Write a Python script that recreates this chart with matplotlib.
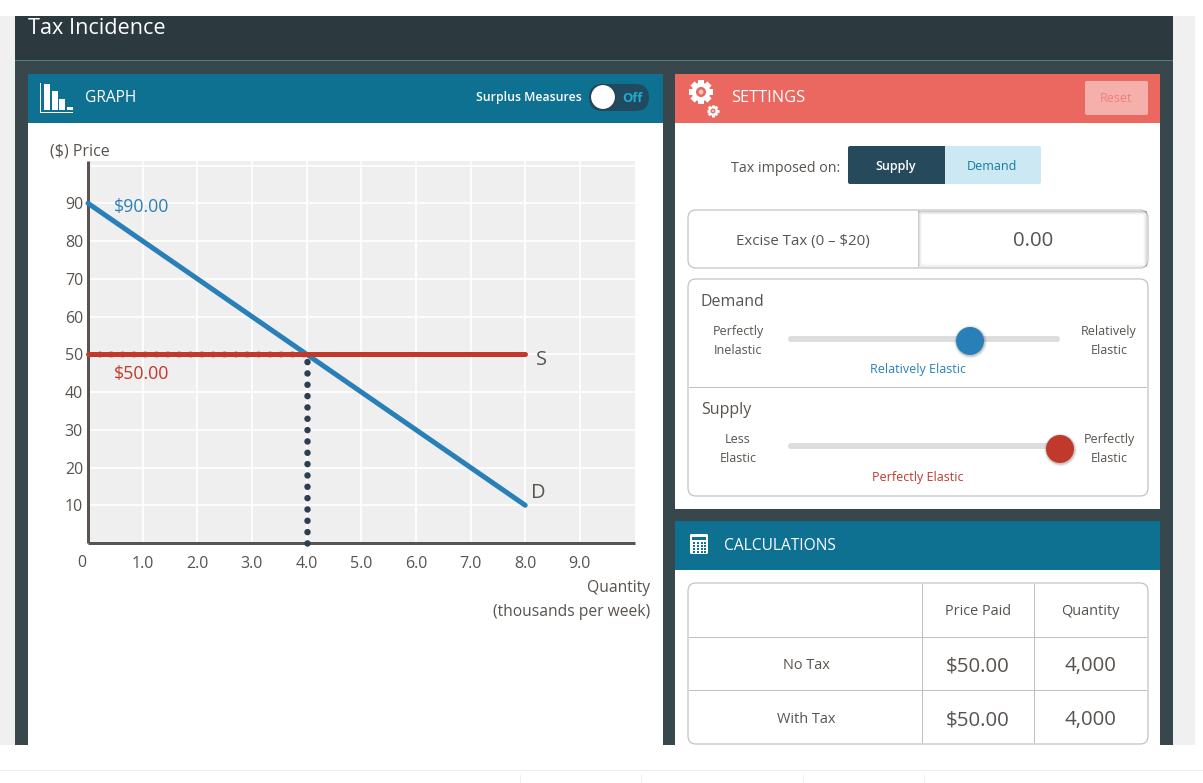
import numpy as np
import matplotlib
matplotlib.use("Agg")
import matplotlib.pyplot as plt
from matplotlib.patches import Rectangle, FancyBboxPatch, Circle

plt.rcParams['font.family'] = ['Open Sans', 'DejaVu Sans']

# chart data
demand_q = [0, 8]
demand_p = [90, 10]
supply_q = [0, 8]
supply_p = [50, 50]
eq_q = [4, 4]
eq_p = [0, 50]
x_ticks = [1, 2, 3, 4, 5, 6, 7, 8, 9]
x_labels = ["1.0", "2.0", "3.0", "4.0", "5.0", "6.0", "7.0", "8.0", "9.0"]
y_ticks = [10, 20, 30, 40, 50, 60, 70, 80, 90, 100]
y_labels = ["10", "20", "30", "40", "50", "60", "70", "80", "90", ""]

# table text
table_cols = ["Price Paid", "Quantity"]
table_rows = ["No Tax", "With Tax"]
table_price = ["$50.00", "$50.00"]
table_qty = ["4,000", "4,000"]

W, H = 1203, 783
TEAL = "#0f7192"
CORAL = "#ea6860"
TEXT = "#58534f"
BLUE = "#2980b9"
RED = "#c0392b"
BORDER = "#c0c0c0"

fig = plt.figure(figsize=(W / 100, H / 100), dpi=100, facecolor="white")
ui = fig.add_axes([0, 0, 1, 1])
ui.set_xlim(0, W)
ui.set_ylim(H, 0)
ui.axis("off")


def px(v):
    # css pixels to points
    return v * 0.72


def box(x0, y0, x1, y1, color, z=1, alpha=None):
    ui.add_patch(Rectangle((x0, y0), x1 - x0, y1 - y0, fc=color, ec="none", zorder=z, alpha=alpha))


def rbox(x0, y0, x1, y1, r=8, fc="white", ec=BORDER, lw=0.85, z=3):
    ui.add_patch(FancyBboxPatch((x0 + r, y0 + r), x1 - x0 - 2 * r, y1 - y0 - 2 * r,
                                boxstyle=f"round,pad={r},rounding_size={r}",
                                fc=fc, ec=ec, lw=lw, zorder=z))


def txt(x, y, s, size=15, color=TEXT, ha="center", weight="normal"):
    # centre of the x-height sits a little lower than matplotlib's box centre
    ui.text(x, y + 3, s, fontsize=px(size), color=color, ha=ha, va="center", weight=weight, zorder=8)


def gear(x, y, r, bg):
    for ang in np.arange(0, 180, 45):
        dx, dy = r * np.cos(np.radians(ang)), r * np.sin(np.radians(ang))
        ui.plot([x - dx, x + dx], [y - dy, y + dy], color="white", lw=px(r * 0.5),
                solid_capstyle="butt", zorder=6)
    ui.add_patch(Circle((x, y), r * 0.78, fc="white", ec="none", zorder=6))
    ui.add_patch(Circle((x, y), r * 0.42, fc=bg, ec="none", zorder=7))
    ui.add_patch(Circle((x, y), r * 0.2, fc="#f6c9c5", ec="none", zorder=8))


def knob(x, y, r, color):
    # soft shadow, then the knob
    for grow, a in [(2.5, 0.05), (1.5, 0.08), (0.7, 0.1)]:
        ui.add_patch(Circle((x + 0.5, y + 0.8), r + grow, fc="black", ec="none", alpha=a, zorder=5))
    ui.add_patch(Circle((x, y), r, fc=color, ec="none", zorder=6))


# page background
box(0, 16, 15, 745, "#f0f0f0")
box(1173, 16, 1195, 745, "#f0f0f0")
box(15, 16, 1173, 60, "#2c3a40")
box(15, 60, 1173, 61, "#5f7a72", z=2)
box(15, 61, 1173, 745, "#37474b")
box(0, 770, W, 771, "#eeeeee")
for bx in [520, 641, 803, 924]:
    box(bx, 775, bx + 1, H, "#eeeeee")
txt(28, 25.5, "Tax Incidence", size=21.7, color="white", ha="left")

# graph panel
box(28, 123, 663, 745, "white")
box(28, 74, 663, 123, TEAL)
box(40, 83, 41, 113, "white", z=5)
box(40, 112, 73, 113, "white", z=5)
for bx, by in [(44, 84), (52, 91), (59, 99), (67, 107)]:
    box(bx, by, bx + 6, 110, "white", z=5)
txt(85, 95, "GRAPH", size=15.5, color="white", ha="left")
txt(582, 95, "Surplus Measures", size=12.2, color="white", ha="right", weight="semibold")
rbox(589, 84, 649, 111, r=13.5, fc="#1f4a60", ec="none", z=4)
ui.add_patch(Circle((603, 97), 12.5, fc="white", ec="#20404f", lw=0.8, zorder=6))
txt(632, 95, "Off", size=13, color="#22a9cf", weight="bold")

# settings panel
box(675, 123, 1160, 509, "white")
box(675, 74, 1160, 123, CORAL)
gear(701, 92, 12, CORAL)
gear(713, 111, 6, CORAL)
txt(731, 95, "SETTINGS", size=16.4, color="white", ha="left")
rbox(1085, 81, 1148, 115, r=2, fc="#f5b0ab", ec="none")
txt(1116, 96, "Reset", size=12.5, color="#ee8079")
txt(786, 165, "Tax imposed on:", size=14.2)
rbox(848, 146, 948, 184, r=2, fc="#264a5c", ec="none", z=3)
rbox(942, 146, 1041, 184, r=2, fc="#cce8f3", ec="none", z=2)
box(945, 146, 948, 184, "#cce8f3", z=4)
txt(896, 163.5, "Supply", size=12.5, color="white", weight="semibold")
txt(992, 163.5, "Demand", size=12.5, color="#137c9f")

rbox(688, 210, 1148, 268)
for i, a in enumerate([0.2, 0.12, 0.06, 0.03]):
    box(918 + i, 211 + i, 1147 - i, 212 + i, "black", z=4, alpha=a)
    box(918 + i, 211 + i, 919 + i, 267 - i, "black", z=4, alpha=a)
    box(1146 - i, 211 + i, 1147 - i, 267 - i, "black", z=4, alpha=a * 0.7)
    box(918 + i, 266 - i, 1147 - i, 267 - i, "black", z=4, alpha=a * 0.4)
txt(803, 238.5, "Excise Tax (0 – $20)", size=15)
txt(1033, 238.5, "0.00", size=20.5)

rbox(688, 279, 1148, 496)
box(689, 387, 1147, 388, BORDER, z=4)
txt(701, 298.5, "Demand", size=16, ha="left")
txt(738, 328.5, "Perfectly", size=12.5)
txt(738, 347.5, "Inelastic", size=12.5)
txt(1109, 328.5, "Relatively", size=12.5)
txt(1109, 347.5, "Elastic", size=12.5)
rbox(788, 336, 1060, 342, r=3, fc="#dddddd", ec="none", z=4)
knob(970, 341, 14, BLUE)
txt(918, 366.5, "Relatively Elastic", size=12.5, color=BLUE)
txt(701, 406.5, "Supply", size=16, ha="left")
txt(738, 436.5, "Less", size=12.5)
txt(738, 455.5, "Elastic", size=12.5)
txt(1109, 436.5, "Perfectly", size=12.5)
txt(1109, 455.5, "Elastic", size=12.5)
rbox(788, 443, 1060, 449, r=3, fc="#dddddd", ec="none", z=4)
knob(1060, 449, 14, RED)
txt(918, 474.5, "Perfectly Elastic", size=12.5, color=RED)

# calculations panel
box(675, 570, 1160, 745, "white")
box(675, 521, 1160, 570, TEAL)
rbox(690, 534, 708, 554, r=1.5, fc="white", ec="none", z=5)
box(692, 537, 706, 540, TEAL, z=6)
for cx in [693, 697, 701, 704]:
    for cy in [542, 545, 548, 551]:
        box(cx, cy, cx + 2, cy + 2, TEAL, z=6)
txt(724, 542.5, "CALCULATIONS", size=15.5, color="white", ha="left")
rbox(688, 583, 1148, 744)
box(689, 637, 1147, 638, BORDER, z=4)
box(689, 690, 1147, 691, BORDER, z=4)
box(922, 584, 923, 743, BORDER, z=4)
box(1034, 584, 1035, 743, BORDER, z=4)
txt(978, 608.5, table_cols[0], size=14.5)
txt(1090, 608.5, table_cols[1], size=14.5)
for ty, rlabel, price, qty in zip([662.5, 716.5], table_rows, table_price, table_qty):
    txt(806, ty, rlabel, size=14.5)
    txt(978, ty + 1, price, size=20.5)
    txt(1090, ty + 1, qty, size=20.5)

# the chart itself
left, right, top, bottom = 88, 634.5, 161, 543
ax = fig.add_axes([left / W, 1 - bottom / H, (right - left) / W, (bottom - top) / H], zorder=5)
ax.set_facecolor("#efefef")
ax.set_xlim(0, 10)
ax.set_ylim(0, 101.2)
ax.set_xticks(x_ticks)
ax.set_xticklabels(x_labels)
ax.set_yticks(y_ticks)
ax.set_yticklabels(y_labels)
ax.tick_params(length=0, labelsize=px(16), labelcolor=TEXT)
ax.tick_params(axis="x", pad=px(13))
ax.tick_params(axis="y", pad=px(5))
ax.grid(True, color="white", lw=px(1.7))
ax.set_axisbelow(True)
for side in ["top", "right"]:
    ax.spines[side].set_visible(False)
for side in ["left", "bottom"]:
    ax.spines[side].set_color("#5a5450")
    ax.spines[side].set_linewidth(px(3))
    ax.spines[side].set_capstyle("butt")

# grey dots under the supply line, up to the equilibrium
ax.plot([0, eq_q[0]], supply_p, color="#a89c96", lw=px(6.5),
        ls=(0, (0.01, 11.27 / 6.5)), dash_capstyle="round", zorder=2)
ax.plot(eq_q, eq_p, color="#2c3e50", lw=px(6.5), ls=(0, (0.01, 11.27 / 6.5)),
        dash_capstyle="round", zorder=3, clip_on=False)
ax.plot(demand_q, demand_p, color=BLUE, lw=px(5), solid_capstyle="round", zorder=4, clip_on=False)
ax.plot(supply_q, supply_p, color=RED, lw=px(5), solid_capstyle="round", zorder=5, clip_on=False)

ax.text(0.48, 89, "$90.00", color=BLUE, fontsize=px(17.7), ha="left", va="center")
ax.text(0.48, 44.7, "$50.00", color=RED, fontsize=px(17.7), ha="left", va="center")
ax.text(8.2, 48.5, "S", color=TEXT, fontsize=px(20), ha="left", va="center")
ax.text(8.1, 13.3, "D", color=TEXT, fontsize=px(20), ha="left", va="center")

txt(50, 149, "($) Price", size=16, ha="left")
txt(82, 560, "0", size=16)
txt(650, 585.5, "Quantity", size=15.6, ha="right")
txt(650, 608.5, "(thousands per week)", size=15.6, ha="right")

fig.savefig("out.png", dpi=100)
